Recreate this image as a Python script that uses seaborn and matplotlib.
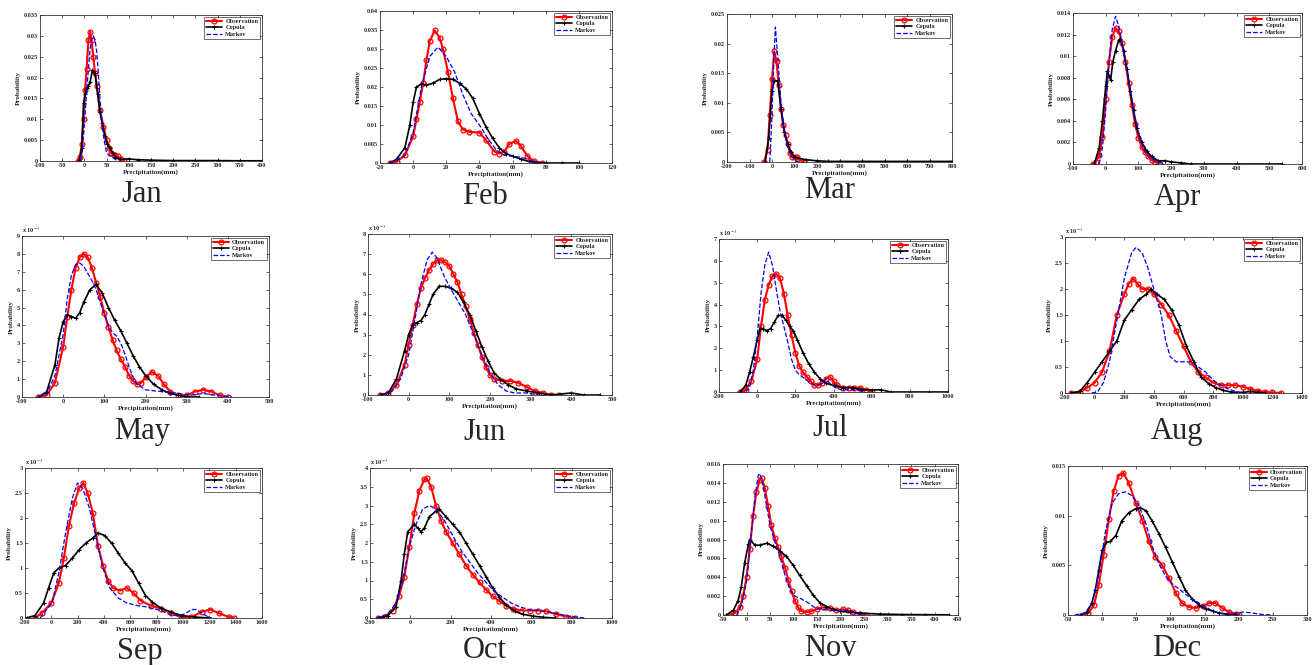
"""
Monthly precipitation PDFs: observation vs copula vs Markov
"""

import matplotlib
matplotlib.use('Agg')
import matplotlib.pyplot as plt
from matplotlib.lines import Line2D
from matplotlib.ticker import FuncFormatter, MultipleLocator
import seaborn as sns
import numpy as np

# ---- data (x = precipitation mm, y = probability) ----
jan_obs_x = [-15, -10, -6, -2, 1.5, 5, 9, 13, 16, 20, 24, 28, 35, 43, 50, 56, 61, 66, 70, 75, 82, 90]
jan_obs_y = [0, 0.001, 0.004, 0.010, 0.017, 0.022, 0.029, 0.031, 0.029, 0.025, 0.021, 0.018, 0.0122, 0.0082,
             0.005, 0.003, 0.0018, 0.0014, 0.0015, 0.0012, 0.0005, 0]
jan_cop_x = [-12, -6, -2, 2, 5, 9, 13, 18, 24, 30, 35, 40, 46, 52, 58, 64, 69, 80, 100, 120, 150, 200, 250,
             300, 350, 400]
jan_cop_y = [0, 0.003, 0.0138, 0.016, 0.0174, 0.018, 0.019, 0.0218, 0.021, 0.016, 0.0118, 0.009, 0.006, 0.004,
             0.003, 0.002, 0.001, 0.0004, 0.0005, 0.0003, 0.0002, 0.0001, 0.0001, 0.0001, 0.00005, 0.00005]
jan_mkv_x = [-8, -4, 0, 4, 9, 13, 16, 20, 24, 28, 32, 35, 39, 43, 47, 50, 56, 61, 68, 75]
jan_mkv_y = [0, 0.003, 0.009, 0.015, 0.022, 0.027, 0.029, 0.030, 0.029, 0.026, 0.020, 0.015, 0.010, 0.006,
             0.0035, 0.002, 0.0013, 0.001, 0.0005, 0]

feb_obs_x = [-14, -10, -5, 0, 2, 4, 6, 8, 10, 13, 16, 18, 21, 24, 27, 30, 34, 40, 44, 49, 52, 55, 58, 62, 65,
             69, 73, 78]
feb_obs_y = [0, 0.0003, 0.002, 0.007, 0.0115, 0.016, 0.021, 0.027, 0.032, 0.0349, 0.033, 0.030, 0.024, 0.017,
             0.011, 0.0088, 0.0082, 0.008, 0.006, 0.003, 0.0025, 0.003, 0.005, 0.0058, 0.0045, 0.0018, 0.0005, 0]
feb_cop_x = [-14, -10, -5, -2, 0, 2, 5, 8, 12, 16, 20, 24, 28, 32, 36, 40, 44, 48, 52, 56, 60, 65, 70, 75, 80,
             90, 100]
feb_cop_y = [0, 0.001, 0.004, 0.010, 0.016, 0.020, 0.0208, 0.0205, 0.021, 0.022, 0.0222, 0.022, 0.021, 0.0195,
             0.017, 0.013, 0.0095, 0.0065, 0.004, 0.0025, 0.0018, 0.001, 0.0004, 0.0001, 0, 0, 0]
feb_mkv_x = [-14, -5, 0, 5, 10, 15, 20, 25, 30, 35, 40, 45, 50, 55, 60, 65, 70, 75, 78]
feb_mkv_y = [0, 0.002, 0.008, 0.020, 0.028, 0.0305, 0.028, 0.024, 0.018, 0.013, 0.010, 0.0065, 0.0035, 0.002,
             0.0018, 0.0015, 0.0008, 0.0002, 0]

mar_obs_x = [-35, -20, -10, 0, 10, 20, 30, 40, 50, 60, 70, 80, 90, 100, 110, 130, 140]
mar_obs_y = [0, 0.002, 0.008, 0.014, 0.0187, 0.017, 0.013, 0.009, 0.0062, 0.0045, 0.003, 0.0015, 0.0008,
             0.0009, 0.0008, 0.0002, 0]
mar_cop_x = [-30, -15, 0, 10, 25, 40, 55, 70, 85, 100, 150, 200, 250, 300, 400, 500, 600, 700, 800]
mar_cop_y = [0, 0.004, 0.012, 0.0137, 0.0137, 0.009, 0.005, 0.003, 0.0017, 0.0008, 0.0004, 0.0002, 0.0001,
             0.0001, 0.0001, 0.0001, 0.0001, 0.0001, 0.0001]
mar_mkv_x = [-10, 0, 8, 15, 25, 40, 55, 70, 90, 110, 120]
mar_mkv_y = [0, 0.008, 0.017, 0.0228, 0.018, 0.010, 0.005, 0.0025, 0.0008, 0.0001, 0]

apr_obs_x = [-40, -30, -20, -10, 0, 10, 20, 30, 40, 50, 60, 70, 80, 90, 100, 110, 120, 130, 140, 150, 165]
apr_obs_y = [0, 0.0002, 0.0008, 0.0025, 0.006, 0.0095, 0.0118, 0.0126, 0.0123, 0.0112, 0.0095, 0.0075, 0.0055,
             0.0037, 0.0024, 0.0016, 0.0011, 0.0007, 0.0004, 0.0002, 0]
apr_cop_x = [-35, -20, -10, 0, 5, 10, 15, 22, 30, 40, 45, 55, 65, 75, 85, 95, 110, 125, 140, 160, 180, 200,
             230, 260, 300, 400, 540]
apr_cop_y = [0, 0.0015, 0.004, 0.0072, 0.0086, 0.0082, 0.0078, 0.0095, 0.0105, 0.0115, 0.0116, 0.0105, 0.0088,
             0.0068, 0.005, 0.0033, 0.002, 0.0012, 0.0007, 0.0003, 0.0003, 0.0002, 0.0001, 0, 0, 0, 0]
apr_mkv_x = [-20, -10, 0, 10, 20, 30, 40, 50, 60, 70, 80, 90, 100, 110, 120, 140, 160, 180]
apr_mkv_y = [0, 0.0015, 0.005, 0.0095, 0.0125, 0.0137, 0.0128, 0.0112, 0.0095, 0.0078, 0.006, 0.0043, 0.003,
             0.002, 0.0012, 0.0005, 0.0002, 0]

may_obs_x = [-60, -40, -20, 0, 10, 20, 30, 40, 50, 60, 70, 80, 90, 100, 110, 120, 130, 140, 150, 160, 170, 180,
             190, 200, 215, 230, 245, 260, 280, 300, 320, 340, 360, 380, 400]
may_obs_y = [0, 0.0001, 0.0008, 0.0028, 0.0045, 0.006, 0.0072, 0.0078, 0.008, 0.0078, 0.0072, 0.0064, 0.0056,
             0.0047, 0.0039, 0.0032, 0.0026, 0.0021, 0.0017, 0.0012, 0.0009, 0.0007, 0.0008, 0.0011, 0.0014,
             0.0012, 0.0007, 0.0003, 0.0001, 0.0001, 0.0003, 0.0004, 0.0003, 0.0001, 0]
may_cop_x = [-60, -40, -20, -10, 0, 10, 20, 30, 40, 50, 65, 80, 95, 110, 125, 140, 155, 170, 185, 200, 220, 240,
             260, 280, 300, 330]
may_cop_y = [0, 0.0003, 0.0018, 0.0033, 0.0042, 0.0046, 0.0045, 0.0044, 0.0047, 0.0053, 0.006, 0.0063, 0.0058,
             0.005, 0.0043, 0.0037, 0.003, 0.0023, 0.0017, 0.0012, 0.0007, 0.0004, 0.0002, 0.0001, 0, 0]
may_mkv_x = [-60, -40, -20, 0, 10, 20, 30, 40, 50, 60, 70, 80, 90, 100, 110, 120, 130, 140, 150, 160, 170, 180,
             200, 240, 280, 310, 340, 370, 410]
may_mkv_y = [0, 0.0002, 0.0012, 0.0035, 0.0055, 0.0068, 0.0074, 0.0075, 0.0073, 0.0069, 0.0065, 0.006, 0.0053,
             0.0046, 0.004, 0.0036, 0.0034, 0.003, 0.0024, 0.0017, 0.0011, 0.0007, 0.0004, 0.0003, 0.0002,
             0.0001, 0.0002, 0.0001, 0]

jun_obs_x = [-70, -50, -30, -10, 0, 10, 20, 30, 40, 50, 60, 70, 80, 90, 100, 110, 120, 130, 140, 150, 160, 170,
             180, 190, 200, 210, 230, 250, 270, 290, 310, 330, 350, 370]
jun_obs_y = [0, 0.0001, 0.0005, 0.0015, 0.0025, 0.0035, 0.0045, 0.0053, 0.0058, 0.0062, 0.0065, 0.0067, 0.0067,
             0.0066, 0.0064, 0.006, 0.0056, 0.005, 0.0044, 0.0038, 0.0031, 0.0025, 0.0019, 0.0014, 0.001,
             0.0008, 0.0007, 0.0007, 0.0006, 0.0004, 0.0002, 0.0001, 0, 0]
jun_cop_x = [-70, -50, -30, -10, 0, 10, 20, 30, 40, 50, 60, 75, 90, 105, 120, 135, 150, 165, 180, 195, 210, 225,
             245, 265, 290, 320, 350, 400, 430, 470]
jun_cop_y = [0, 0.0001, 0.0008, 0.0022, 0.003, 0.0035, 0.0036, 0.0037, 0.004, 0.0045, 0.005, 0.0054, 0.0054,
             0.0053, 0.0051, 0.0046, 0.004, 0.0032, 0.0024, 0.0017, 0.0011, 0.0008, 0.0005, 0.0003, 0.0002,
             0.0001, 0, 0.0001, 0, 0]
jun_mkv_x = [-60, -40, -20, 0, 15, 30, 45, 58, 70, 85, 100, 120, 140, 160, 180, 200, 220, 240, 260, 290, 320]
jun_mkv_y = [0, 0.0002, 0.0008, 0.002, 0.0037, 0.0055, 0.0067, 0.0071, 0.0068, 0.006, 0.0054, 0.0047, 0.004,
             0.003, 0.002, 0.0011, 0.0005, 0.0002, 0.0001, 0.0001, 0]

jul_obs_x = [-90, -60, -30, 0, 20, 40, 60, 80, 100, 120, 140, 160, 180, 200, 220, 240, 260, 280, 300, 320, 340,
             360, 380, 400, 420, 450, 480, 510, 540, 570, 600]
jul_obs_y = [0, 0.0001, 0.0005, 0.0015, 0.003, 0.0042, 0.0049, 0.0053, 0.0054, 0.0052, 0.0045, 0.0035, 0.0026,
             0.0018, 0.0012, 0.0009, 0.0007, 0.0005, 0.0003, 0.0003, 0.0004, 0.0006, 0.0007, 0.0005, 0.0003,
             0.0002, 0.0002, 0.0002, 0.0002, 0.0001, 0]
jul_cop_x = [-90, -60, -40, -20, 0, 15, 30, 50, 70, 90, 110, 130, 150, 170, 190, 210, 240, 270, 300, 330, 360,
             400, 450, 500, 550, 600, 650, 700, 800, 900, 1000]
jul_cop_y = [0, 0.0003, 0.0009, 0.0016, 0.0024, 0.0029, 0.0029, 0.0028, 0.0029, 0.0032, 0.0035, 0.0035, 0.0033,
             0.003, 0.0028, 0.0024, 0.0018, 0.0013, 0.0009, 0.0006, 0.0004, 0.0003, 0.0002, 0.0002, 0.0001,
             0.0001, 0.0001, 0, 0, 0, 0]
jul_mkv_x = [-60, -40, -20, 0, 20, 40, 60, 80, 100, 120, 140, 160, 180, 200, 220, 250, 280, 310, 340, 360, 380,
             410, 440, 480, 520, 560]
jul_mkv_y = [0, 0.0002, 0.001, 0.0025, 0.0045, 0.0058, 0.0064, 0.0058, 0.0047, 0.0037, 0.003, 0.0023, 0.0015,
             0.001, 0.0008, 0.0006, 0.0004, 0.0003, 0.0004, 0.0006, 0.0004, 0.0002, 0.0001, 0.0001, 0.0001, 0]

aug_obs_x = [-160, -100, -50, 0, 50, 100, 150, 200, 230, 260, 290, 320, 360, 400, 450, 500, 550, 600, 650, 700,
             750, 800, 850, 900, 950, 1000, 1050, 1100, 1150, 1200, 1260]
aug_obs_y = [0, 0.00002, 0.0001, 0.0002, 0.0004, 0.0008, 0.0015, 0.0019, 0.0021, 0.0022, 0.0021, 0.002, 0.002,
             0.0019, 0.0017, 0.0015, 0.0012, 0.0009, 0.0006, 0.0004, 0.0003, 0.0002, 0.00015, 0.00015, 0.00015,
             0.00012, 0.00008, 0.00004, 0.00002, 0.00001, 0]
aug_cop_x = [-160, -100, -50, 0, 50, 100, 150, 200, 250, 300, 350, 380, 420, 470, 520, 570, 620, 670, 720, 770,
             820, 870, 920, 1000, 1050, 1100, 1150]
aug_cop_y = [0, 0.00003, 0.0002, 0.0004, 0.0006, 0.0008, 0.001, 0.0014, 0.0016, 0.0018, 0.0019, 0.002, 0.0019,
             0.0018, 0.0016, 0.0013, 0.0009, 0.0006, 0.0003, 0.00018, 0.0001, 0.00005, 0.00002, 0.00001, 0.00003,
             0.00001, 0]
aug_mkv_x = [-20, 20, 60, 100, 150, 200, 250, 280, 320, 360, 400, 450, 480, 510, 550, 600, 650, 700, 750, 800,
             850, 900, 950, 1000]
aug_mkv_y = [0, 0.00002, 0.0002, 0.0006, 0.0014, 0.0022, 0.0027, 0.0028, 0.0027, 0.0024, 0.002, 0.0015, 0.001,
             0.0007, 0.0006, 0.0006, 0.0006, 0.0005, 0.0004, 0.00025, 0.00015, 0.00008, 0.00003, 0]

sep_obs_x = [-124, -72, 0, 57, 95, 134, 173, 212, 243, 276, 315, 354, 392, 431, 470, 521, 573, 625, 676, 754,
             831, 908, 986, 1063, 1141, 1205, 1270, 1347, 1386]
sep_obs_y = [0, 0.0001, 0.0003, 0.0007, 0.0012, 0.00185, 0.0023, 0.0026, 0.0027, 0.0025, 0.0021, 0.00145,
             0.00105, 0.00075, 0.0006, 0.00055, 0.0006, 0.0005, 0.00035, 0.00025, 0.00019, 0.0001, 0.00002,
             0.00002, 0.00012, 0.00017, 0.0001, 0.00002, 0]
sep_cop_x = [-188, -124, -59, -21, 18, 57, 108, 160, 212, 263, 315, 354, 405, 457, 508, 560, 611, 663, 715, 766,
             831, 908, 986, 1089, 1192]
sep_cop_y = [0, 0.00005, 0.0003, 0.0006, 0.0009, 0.001, 0.00105, 0.0012, 0.00137, 0.0015, 0.0016, 0.0017,
             0.00165, 0.0015, 0.0013, 0.0011, 0.00095, 0.0007, 0.00045, 0.00032, 0.0002, 0.00012, 0.00005,
             0.00002, 0]
sep_mkv_x = [-85, 5, 57, 108, 160, 199, 237, 289, 340, 392, 444, 508, 573, 650, 728, 831, 908, 973, 1025, 1063,
             1102, 1141, 1192, 1220]
sep_mkv_y = [0, 0.0003, 0.0009, 0.0017, 0.0024, 0.0027, 0.0026, 0.0022, 0.0016, 0.001, 0.0006, 0.0004, 0.0003,
             0.00025, 0.00022, 0.00015, 0.00006, 0.00004, 0.0001, 0.00017, 0.00017, 0.0001, 0.00002, 0]

oct_obs_x = [-162, -129, -88, -55, -30, -5, 20, 45, 70, 81, 103, 127, 152, 177, 210, 243, 276, 310, 343, 376,
             409, 442, 475, 508, 550, 591, 632, 674, 724, 773, 815]
oct_obs_y = [0, 0.00003, 0.0002, 0.0006, 0.0011, 0.0019, 0.0028, 0.0034, 0.0037, 0.00373, 0.0035, 0.003,
             0.0026, 0.0023, 0.002, 0.0017, 0.0014, 0.00115, 0.00095, 0.00075, 0.00058, 0.00045, 0.00033,
             0.00025, 0.0002, 0.0002, 0.0002, 0.00018, 0.0001, 0.00004, 0]
oct_cop_x = [-162, -113, -71, -46, -30, -13, 20, 36, 53, 70, 94, 127, 144, 177, 210, 243, 276, 310, 343, 376,
             409, 442, 475, 517, 558, 608, 657, 715]
oct_cop_y = [0, 0.00005, 0.0003, 0.001, 0.0017, 0.0023, 0.0025, 0.0024, 0.0023, 0.0024, 0.0027, 0.00285,
             0.0029, 0.0027, 0.0025, 0.0023, 0.002, 0.0017, 0.0014, 0.0011, 0.0008, 0.00055, 0.00035, 0.00018,
             0.0001, 0.00005, 0.00002, 0]
oct_mkv_x = [-170, -113, -71, -38, -5, 28, 61, 94, 127, 169, 210, 252, 293, 334, 376, 417, 459, 500, 541, 591,
             641, 690, 757, 823, 873]
oct_mkv_y = [0, 0.0001, 0.0004, 0.001, 0.0019, 0.0025, 0.0029, 0.003, 0.0029, 0.0026, 0.0022, 0.0018, 0.0015,
             0.0012, 0.00095, 0.0007, 0.00055, 0.0004, 0.0003, 0.00022, 0.0002, 0.00016, 0.00008, 0.00002, 0]

nov_obs_x = [-35, -25, -14, -7, 0, 7, 14, 21, 28, 32, 39, 46, 53, 60, 67, 74, 82, 89, 96, 103, 110, 117, 128,
             138, 149, 163, 177, 191, 206, 216, 227, 241, 255]
nov_obs_y = [0, 0.0002, 0.0008, 0.002, 0.004, 0.007, 0.0105, 0.013, 0.0143, 0.0145, 0.0135, 0.0115, 0.0095,
             0.0082, 0.0072, 0.0062, 0.005, 0.0037, 0.0025, 0.0015, 0.0008, 0.0004, 0.0003, 0.0004, 0.0006,
             0.0008, 0.0007, 0.0005, 0.0006, 0.0005, 0.0003, 0.0001, 0]
nov_cop_x = [-43, -28, -18, -11, -4, 4, 7, 18, 28, 43, 57, 71, 85, 99, 113, 128, 142, 156, 170, 184, 199, 220,
             241, 284, 330, 380, 430]
nov_cop_y = [0, 0.0005, 0.0015, 0.003, 0.0055, 0.0075, 0.008, 0.0074, 0.0074, 0.0076, 0.0073, 0.0068, 0.0062,
             0.0053, 0.0042, 0.0031, 0.0021, 0.0013, 0.0009, 0.0006, 0.0004, 0.0003, 0.0002, 0.0001, 0.00005,
             0.00003, 0.00002]
nov_mkv_x = [-21, -11, 0, 11, 18, 25, 28, 35, 43, 50, 60, 71, 82, 92, 103, 117, 131, 145, 160, 177, 199, 216,
             234, 248]
nov_mkv_y = [0, 0.001, 0.0035, 0.009, 0.0125, 0.0148, 0.015, 0.0138, 0.0115, 0.0095, 0.0078, 0.0062, 0.0042,
             0.0027, 0.002, 0.0017, 0.0013, 0.0008, 0.0006, 0.0005, 0.0005, 0.0005, 0.0002, 0]

dec_obs_x = [-27, -20, -12, -5, 2, 10, 17, 24, 31, 39, 49, 59, 68, 78, 88, 98, 108, 117, 127, 137, 147, 157,
             166, 176, 186, 196, 201]
dec_obs_y = [0, 0.0002, 0.001, 0.003, 0.006, 0.0097, 0.0125, 0.014, 0.0143, 0.0133, 0.0113, 0.0095, 0.0075,
             0.0058, 0.005, 0.0037, 0.0022, 0.0012, 0.0008, 0.0007, 0.0009, 0.0012, 0.0012, 0.0007, 0.0003,
             0.0001, 0]
dec_cop_x = [-32, -22, -15, -10, -5, 0, 6, 12, 20, 29, 39, 49, 56, 64, 73, 83, 93, 103, 113, 122, 132, 142, 152,
             162, 171, 184, 196]
dec_cop_y = [0, 0.0003, 0.0012, 0.0025, 0.0045, 0.0065, 0.0073, 0.0074, 0.008, 0.0095, 0.0103, 0.0107, 0.0108,
             0.0105, 0.0095, 0.0082, 0.0068, 0.0053, 0.0038, 0.0025, 0.0016, 0.001, 0.0006, 0.0004, 0.0002,
             0.00005, 0]
dec_mkv_x = [-40, -25, -15, -5, 5, 15, 24, 34, 44, 54, 64, 73, 83, 93, 103, 113, 122, 132, 142, 152, 162, 171,
             186, 206, 220, 235, 250]
dec_mkv_y = [0, 0.0002, 0.0012, 0.004, 0.0085, 0.0113, 0.0122, 0.0124, 0.012, 0.011, 0.0092, 0.007, 0.0052,
             0.0039, 0.0031, 0.0026, 0.0021, 0.0016, 0.0012, 0.0008, 0.0004, 0.0002, 0.0001, 0.0003, 0.0002,
             0.00005, 0]

months = ['Jan', 'Feb', 'Mar', 'Apr', 'May', 'Jun', 'Jul', 'Aug', 'Sep', 'Oct', 'Nov', 'Dec']
series_names = ['Observation', 'Copula', 'Markov']

# axis limits / tick steps per month: (xmin, xmax, xstep, ymax, ystep, scaled by 1e-3?)
axis_setup = {
    'Jan': (-100, 400, 50, 0.035, 0.005, False),
    'Feb': (-20, 120, 20, 0.04, 0.005, False),
    'Mar': (-200, 800, 100, 0.025, 0.005, False),
    'Apr': (-100, 600, 100, 0.014, 0.002, False),
    'May': (-100, 500, 100, 0.009, 0.001, True),
    'Jun': (-100, 500, 100, 0.008, 0.001, True),
    'Jul': (-200, 1000, 200, 0.007, 0.001, True),
    'Aug': (-200, 1400, 200, 0.003, 0.0005, True),
    'Sep': (-200, 1600, 200, 0.003, 0.0005, True),
    'Oct': (-200, 1000, 200, 0.004, 0.0005, True),
    'Nov': (-50, 450, 50, 0.016, 0.002, False),
    'Dec': (-50, 300, 50, 0.015, 0.005, False),
}

# axes boxes in pixels: left, top, right, bottom ; month label centre
W, H = 1314, 665
boxes = {
    'Jan': (40, 15, 262, 161, 142, 195), 'Feb': (380, 11, 612, 163, 485, 197),
    'Mar': (727, 14, 952, 162, 830, 191), 'Apr': (1073, 13, 1302, 164, 1177, 197),
    'May': (22, 236, 269, 397, 142, 432), 'Jun': (368, 234, 612, 395, 485, 432),
    'Jul': (719, 239, 948, 392, 830, 428), 'Aug': (1065, 237, 1302, 393, 1177, 432),
    'Sep': (25, 468, 262, 618, 140, 651), 'Oct': (370, 468, 612, 618, 485, 651),
    'Nov': (723, 464, 958, 615, 830, 648), 'Dec': (1068, 466, 1307, 615, 1177, 648),
}

data = {}
for m in months:
    k = m.lower()
    data[m] = [(globals()[k + '_obs_x'], globals()[k + '_obs_y']),
               (globals()[k + '_cop_x'], globals()[k + '_cop_y']),
               (globals()[k + '_mkv_x'], globals()[k + '_mkv_y'])]

sns.set_theme(style='white')
plt.rcParams['font.family'] = ['Liberation Serif', 'DejaVu Serif']
plt.rcParams['mathtext.fontset'] = 'stix'

# seaborn puts a white edge on line markers by default, so set the edge colour explicitly
styles = [
    dict(color='red', marker='o', markersize=3.5, markerfacecolor='none', markeredgecolor='red',
         markeredgewidth=0.9, linewidth=1.5),
    dict(color='black', marker='+', markersize=3.2, markeredgecolor='black', markeredgewidth=0.8,
         linewidth=1.2),
    dict(color='blue', linestyle='--', linewidth=0.9),
]

fig = plt.figure(figsize=(W / 100, H / 100), dpi=100)
fig.patch.set_facecolor('white')

for m in months:
    l, t, r, b, lx, ly = boxes[m]
    ax = fig.add_axes([l / W, 1 - b / H, (r - l) / W, (b - t) / H])
    for (xs, ys), st in zip(data[m], styles):
        sns.lineplot(x=np.array(xs), y=np.array(ys), ax=ax, sort=False, estimator=None, **st)
    xmin, xmax, xstep, ymax, ystep, scaled = axis_setup[m]
    ax.set_xlim(xmin, xmax)
    ax.set_ylim(0, ymax)
    ax.xaxis.set_major_locator(MultipleLocator(xstep))
    ax.yaxis.set_major_locator(MultipleLocator(ystep))
    ax.xaxis.set_major_formatter(FuncFormatter(lambda v, p: f'{v:g}'))
    if scaled:
        ax.yaxis.set_major_formatter(FuncFormatter(lambda v, p: f'{v * 1000:g}'))
        ax.text(0.0, 1.005, r'x 10$^{-3}$', transform=ax.transAxes, fontsize=4.5,
                fontweight='bold', ha='left', va='bottom')
    else:
        ax.yaxis.set_major_formatter(FuncFormatter(lambda v, p: '0' if v == 0 else f'{v:g}'))
    ax.tick_params(direction='in', top=True, right=True, length=2.5, width=0.5, pad=1.5,
                   labelsize=4.5, bottom=True, left=True)
    for lab in ax.get_xticklabels() + ax.get_yticklabels():
        lab.set_fontweight('bold')
    for sp in ax.spines.values():
        sp.set_linewidth(0.6)
        sp.set_color('#333333')
    ax.set_xlabel('Precipitation(mm)', fontsize=5, fontweight='bold', labelpad=1)
    ax.set_ylabel('Probability', fontsize=5, fontweight='bold', labelpad=2)
    handles = [Line2D([], [], **st) for st in styles]
    leg = ax.legend(handles, series_names, loc='upper right', fontsize=4.5, frameon=True,
                    fancybox=False, borderpad=0.3, handlelength=2.6, handletextpad=0.5,
                    labelspacing=0.15, borderaxespad=0.3)
    leg.get_frame().set_edgecolor('black')
    leg.get_frame().set_linewidth(0.5)
    for txt in leg.get_texts():
        txt.set_fontweight('bold')
    fig.text(lx / W, 1 - ly / H, m, fontsize=22, ha='center', va='center')

fig.savefig('out.png', dpi=100, facecolor='white')
